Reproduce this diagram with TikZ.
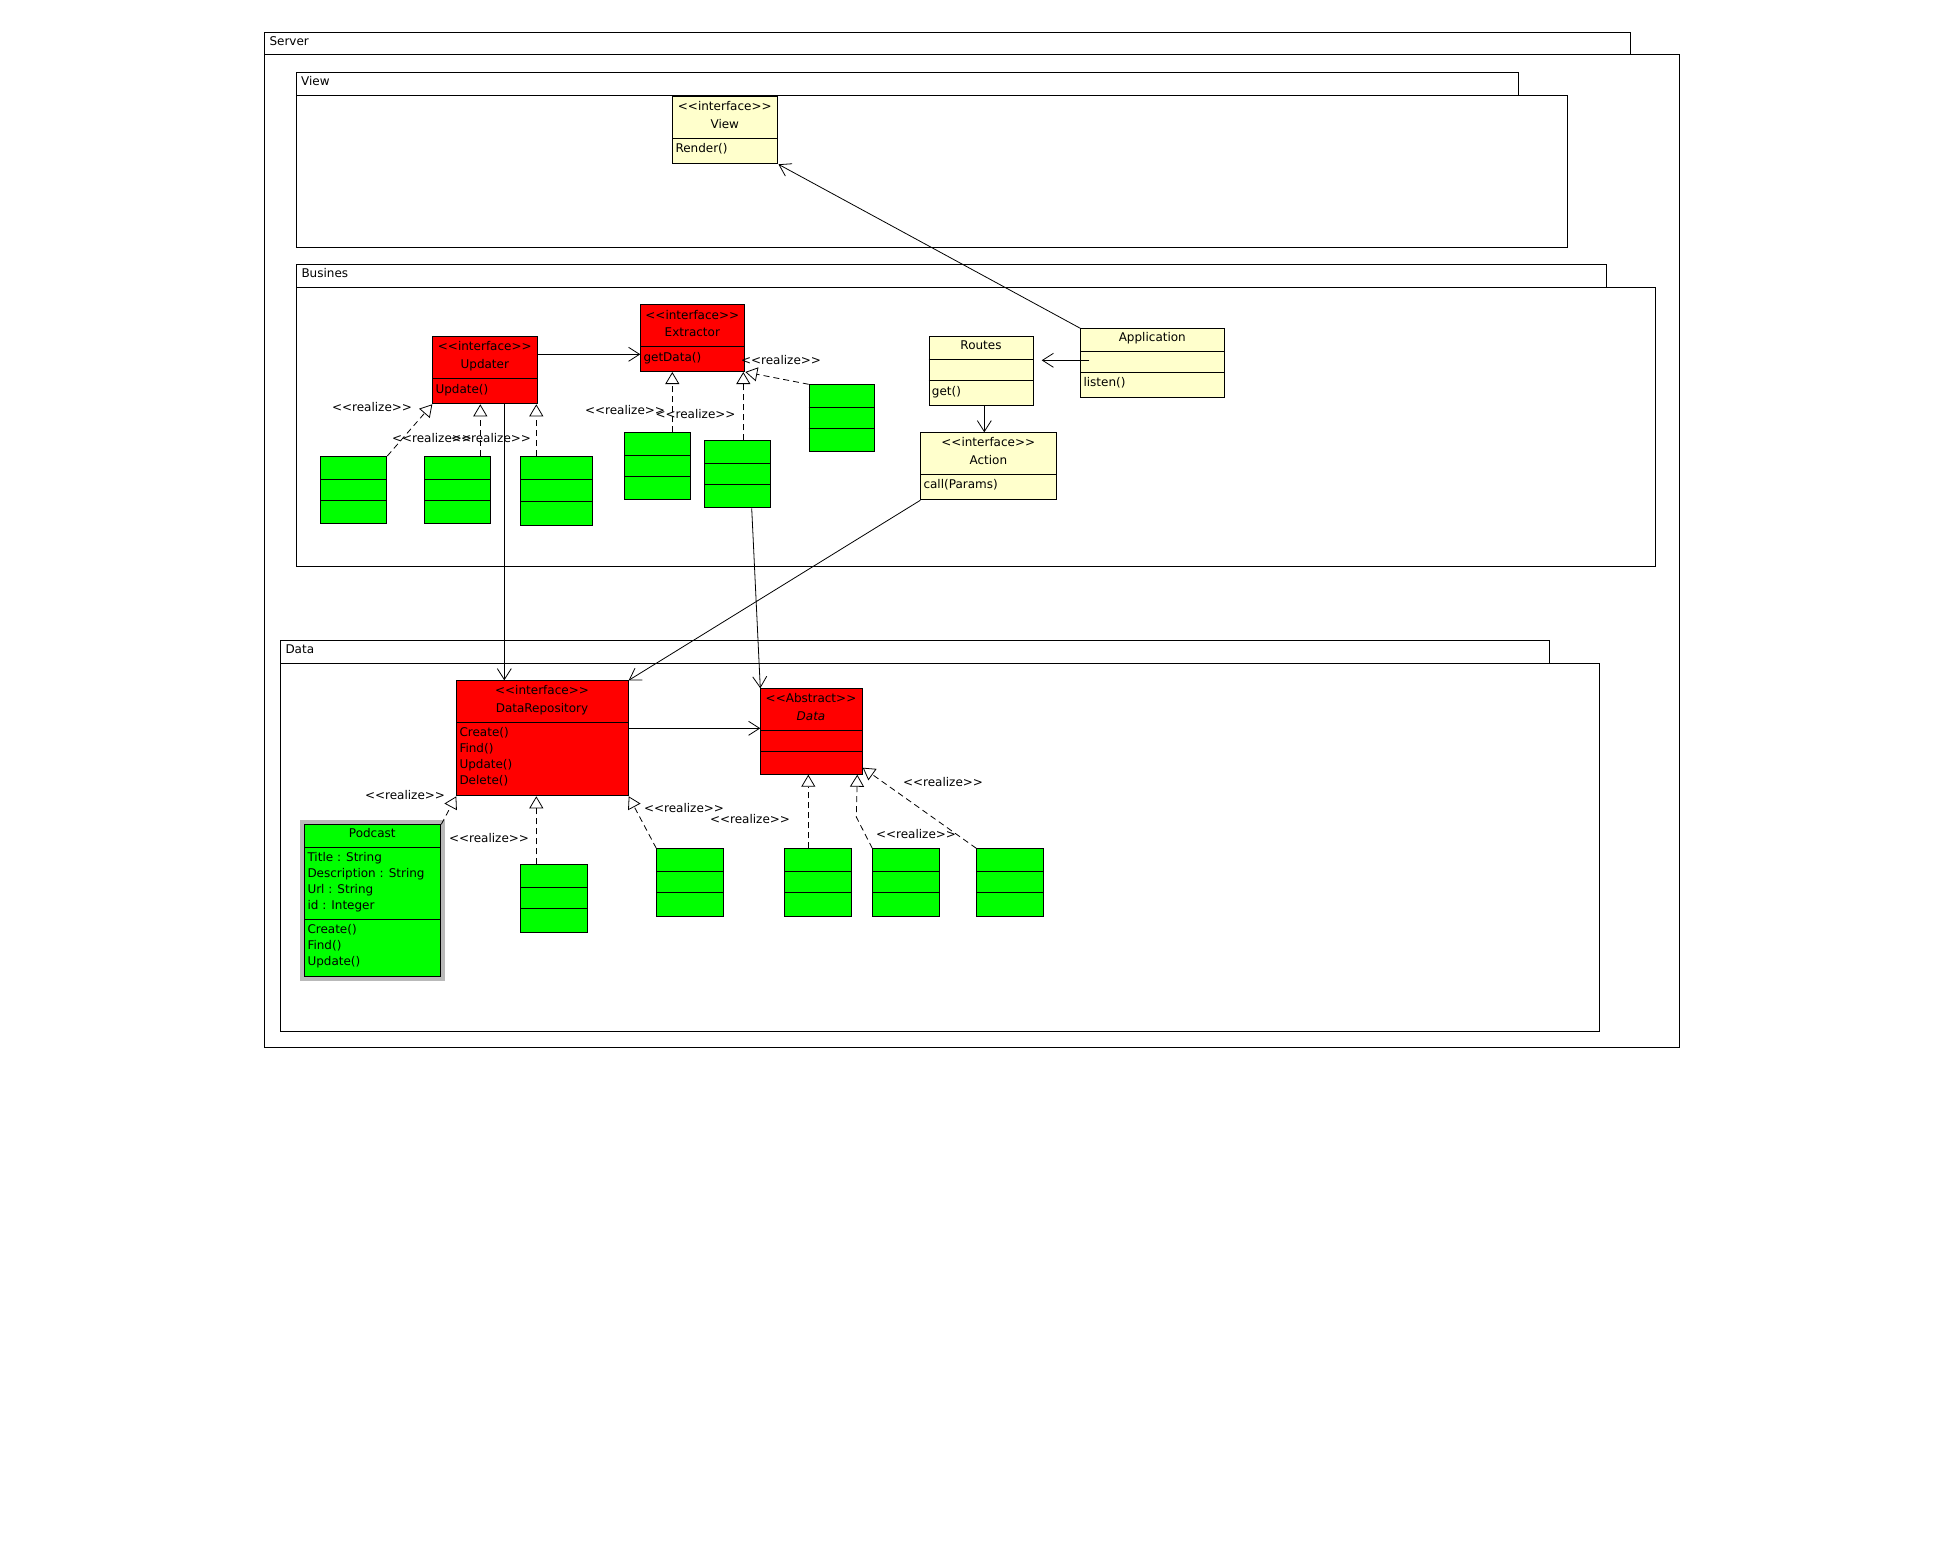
\documentclass[tikz,border=0pt]{standalone}
\usepackage{fontspec}
\usepackage{tikz}
\usetikzlibrary{arrows.meta,calc}
\newfontfamily\umlfont{DejaVu Sans}
\definecolor{classred}{RGB}{255,0,0}
\definecolor{classgreen}{RGB}{0,255,0}
\definecolor{classyellow}{RGB}{255,255,204}

\begin{document}
\begin{tikzpicture}[x=1pt,y=-1pt,
  font=\umlfont\fontsize{12}{14}\selectfont,
  box/.style={draw=black, line width=1pt, inner sep=0pt, anchor=north west},
  txt/.style={inner sep=0pt, text height=9pt, text depth=2.5pt, yshift=-2pt},
  lft/.style={txt, anchor=west},
  assoc/.style={draw, line width=0.8pt, -{Straight Barb[length=11pt,width=14pt]}},
  realize/.style={draw, line width=0.8pt, dash pattern=on 6pt off 4pt,
    -{Triangle[open,length=12pt,width=14pt,fill=white]}}]
\useasboundingbox (0,0) rectangle (1944,1544);

% packages
\draw[line width=1pt] (264.3,32.3) rectangle (1630.8,55);
\draw[line width=1pt] (264.3,55) rectangle (1679.8,1047.3);
\node[lft] (srvlbl) at (269.3,40.7) {Server};
\draw[line width=1pt] (296.3,72.3) rectangle (1518.7,95.3);
\draw[line width=1pt] (296.3,95.3) rectangle (1567.7,247.7);
\node[lft] (viewlbl) at (301,80.7) {View};
\draw[line width=1pt] (296.3,264.3) rectangle (1606.3,287.3);
\draw[line width=1pt] (296.3,287.3) rectangle (1655.3,566.6);
\node[lft] (buslbl) at (301.3,272.7) {Busines};
\draw[line width=1pt] (280.3,640.3) rectangle (1549.8,663.3);
\draw[line width=1pt] (280.3,663.3) rectangle (1599.4,1031.7);
\node[lft] (datalbl) at (285.3,648.7) {Data};

% View
\node[box, fill=classyellow, minimum width=105.1pt, minimum height=67pt] (vw) at (672.3,96.3) {};
\draw[line width=1pt] (672.3,138.3) -- (777.4,138.3);
\node[txt] (vwst) at (724.8,105.7) {<<interface>>};
\node[txt] (vwname) at (724.8,123.7) {View};
\node[lft] (vwop) at (675.3,147.3) {Render()};

% Busines
\node[box, fill=classred, minimum width=105pt, minimum height=67pt] (upd) at (432.3,336.3) {};
\draw[line width=1pt] (432.3,378.3) -- (537.3,378.3);
\node[txt] (updst) at (484.8,345.7) {<<interface>>};
\node[txt] (updname) at (484.8,363.3) {Updater};
\node[lft] (updop) at (435.3,388) {Update()};

\node[box, fill=classred, minimum width=104pt, minimum height=66.7pt] (ext) at (640.3,304.3) {};
\draw[line width=1pt] (640.3,346.3) -- (744.3,346.3);
\node[txt] (extst) at (692.3,314) {<<interface>>};
\node[txt] (extname) at (692.3,331.7) {Extractor};
\node[lft] (extop) at (643.3,356) {getData()};

\node[box, fill=classyellow, minimum width=104.6pt, minimum height=69pt] (rts) at (928.7,336.3) {};
\draw[line width=1pt] (928.7,359.3) -- (1033.3,359.3);
\draw[line width=1pt] (928.7,380.3) -- (1033.3,380.3);
\node[txt] (rtsname) at (981,344.3) {Routes};
\node[lft] (rtsop) at (931.7,390) {get()};

\node[box, fill=classyellow, minimum width=144pt, minimum height=69pt] (app) at (1080.3,328.3) {};
\draw[line width=1pt] (1080.3,351.7) -- (1224.3,351.7);
\draw[line width=1pt] (1080.3,372.3) -- (1224.3,372.3);
\node[txt] (appname) at (1152.3,336.7) {Application};
\node[lft] (appop) at (1083.3,381.7) {listen()};

\node[box, fill=classyellow, minimum width=136pt, minimum height=67pt] (act) at (920.3,432.3) {};
\draw[line width=1pt] (920.3,474) -- (1056.3,474);
\node[txt] (actst) at (988.3,441.7) {<<interface>>};
\node[txt] (actname) at (988.3,459.7) {Action};
\node[lft] (actop) at (923.3,483.3) {call(Params)};

\node[box, fill=classgreen, minimum width=66pt, minimum height=67.3pt] (g1) at (320.3,456) {};
\draw[line width=1pt] (320.3,479.3) -- (386.3,479.3) (320.3,500.3) -- (386.3,500.3);
\node[box, fill=classgreen, minimum width=66pt, minimum height=67.3pt] (g2) at (424.3,456) {};
\draw[line width=1pt] (424.3,479.3) -- (490.3,479.3) (424.3,500.3) -- (490.3,500.3);
\node[box, fill=classgreen, minimum width=72pt, minimum height=69.3pt] (g3) at (520.3,456) {};
\draw[line width=1pt] (520.3,479.3) -- (592.3,479.3) (520.3,501) -- (592.3,501);
\node[box, fill=classgreen, minimum width=66pt, minimum height=67pt] (g4) at (624.3,432.3) {};
\draw[line width=1pt] (624.3,455.3) -- (690.3,455.3) (624.3,476.3) -- (690.3,476.3);
\node[box, fill=classgreen, minimum width=66pt, minimum height=67pt] (g5) at (704.3,440.3) {};
\draw[line width=1pt] (704.3,463.3) -- (770.3,463.3) (704.3,484.3) -- (770.3,484.3);
\node[box, fill=classgreen, minimum width=65.6pt, minimum height=67pt] (g6) at (808.7,384.3) {};
\draw[line width=1pt] (808.7,407.3) -- (874.3,407.3) (808.7,428.3) -- (874.3,428.3);

% Data
\node[box, fill=classred, minimum width=171.4pt, minimum height=115pt] (dr) at (456.3,680.3) {};
\draw[line width=1pt] (456.3,722.3) -- (627.7,722.3);
\node[txt] (drst) at (542,689.7) {<<interface>>};
\node[txt] (drname) at (542,707.7) {DataRepository};
\node[lft] (drop1) at (459.3,731.3) {Create()};
\node[lft] (drop2) at (459.3,747.3) {Find()};
\node[lft] (drop3) at (459.3,763.3) {Update()};
\node[lft] (drop4) at (459.3,779.3) {Delete()};

\node[box, fill=classred, minimum width=101.4pt, minimum height=85.4pt] (dat) at (760.3,688.3) {};
\draw[line width=1pt] (760.3,730.3) -- (861.7,730.3) (760.3,751.7) -- (861.7,751.7);
\node[txt] (datst) at (811,697.7) {<<Abstract>>};
\node[txt] (datname) at (811,715.7) {\itshape Data};

\draw[gray!55, line width=4pt] (302,822.3) rectangle (443,978.5);
\node[box, fill=classgreen, minimum width=136pt, minimum height=152pt] (pod) at (304.3,824.3) {};
\draw[line width=1pt] (304.3,847.3) -- (440.3,847.3) (304.3,919.3) -- (440.3,919.3);
\node[txt] (podname) at (372.3,832.7) {Podcast};
\node[lft] (podat1) at (307.3,856.7) {Title : String};
\node[lft] (podat2) at (307.3,872.7) {Description : String};
\node[lft] (podat3) at (307.3,888.7) {Url : String};
\node[lft] (podat4) at (307.3,904.7) {id : Integer};
\node[lft] (podop1) at (307.3,928.3) {Create()};
\node[lft] (podop2) at (307.3,944.3) {Find()};
\node[lft] (podop3) at (307.3,960.3) {Update()};

\node[box, fill=classgreen, minimum width=66.4pt, minimum height=67.4pt] (g7) at (520.3,864.3) {};
\draw[line width=1pt] (520.3,887.3) -- (586.7,887.3) (520.3,908.3) -- (586.7,908.3);
\node[box, fill=classgreen, minimum width=66.4pt, minimum height=67.4pt] (g8) at (656.3,848.3) {};
\draw[line width=1pt] (656.3,871.3) -- (722.7,871.3) (656.3,892.7) -- (722.7,892.7);
\node[box, fill=classgreen, minimum width=66.4pt, minimum height=67.4pt] (g9) at (784.3,848.3) {};
\draw[line width=1pt] (784.3,871.3) -- (850.7,871.3) (784.3,892.7) -- (850.7,892.7);
\node[box, fill=classgreen, minimum width=66.4pt, minimum height=67.4pt] (g10) at (872.3,848.3) {};
\draw[line width=1pt] (872.3,871.3) -- (938.7,871.3) (872.3,892.7) -- (938.7,892.7);
\node[box, fill=classgreen, minimum width=66.4pt, minimum height=67.4pt] (g11) at (976.3,848.3) {};
\draw[line width=1pt] (976.3,871.3) -- (1042.7,871.3) (976.3,892.7) -- (1042.7,892.7);

% associations
\draw[assoc] (app.north west) -- (vw.south east);
\draw[assoc] ($(app.north west)+(9,32)$) -- ($(rts.north east)+(7.4,24)$);
\draw[assoc] ($(rts.south west)+(55.6,0)$) -- ($(act.north west)+(64,0)$);
\draw[assoc] ($(upd.north east)+(0,18)$) -- ($(ext.north west)+(0,50)$);
\draw[assoc] ($(upd.south west)+(72,0)$) -- ($(dr.north west)+(48,0)$);
\draw[assoc] ($(g5.south west)+(47.4,0)$) -- (dat.north west);
\draw[assoc] (act.south west) -- (dr.north east);
\draw[assoc] ($(dr.north east)+(0,48)$) -- ($(dat.north west)+(0,40)$);

% realizations
\draw[realize] (g1.north east) -- (upd.south west);
\draw[realize] ($(g2.north west)+(56,0)$) -- ($(upd.south west)+(48,0)$);
\draw[realize] ($(g3.north west)+(16,0)$) -- ($(upd.south west)+(104,0)$);
\draw[realize] ($(g4.north west)+(48,0)$) -- ($(ext.south west)+(32,0)$);
\draw[realize] ($(g5.north west)+(39,0)$) -- ($(ext.south west)+(103,0)$);
\draw[realize] (g6.north west) -- (ext.south east);
\draw[realize] (pod.north east) -- (dr.south west);
\draw[realize] ($(g7.north west)+(16,0)$) -- ($(dr.south west)+(80,0)$);
\draw[realize] (g8.north west) -- (dr.south east);
\draw[realize] ($(g9.north west)+(24,0)$) -- ($(dat.south west)+(48,0)$);
\draw[realize] (g10.north west) -- ($(g10.north west)+(-16,-31.3)$) -- ($(dat.south east)+(-5.4,0)$);
\draw[realize] (g11.north west) -- ($(dat.south east)+(0,-7)$);

\node[txt] (rl1) at (372,406) {<<realize>>};
\node[txt] (rl2) at (432,437) {<<realize>>};
\node[txt] (rl3) at (491,437) {<<realize>>};
\node[txt] (rl4) at (625,409) {<<realize>>};
\node[txt] (rl5) at (695.5,413) {<<realize>>};
\node[txt] (rl6) at (781,359) {<<realize>>};
\node[txt] (rl7) at (405,794) {<<realize>>};
\node[txt] (rl8) at (489,837) {<<realize>>};
\node[txt] (rl9) at (684,807) {<<realize>>};
\node[txt] (rl10) at (750,818) {<<realize>>};
\node[txt] (rl11) at (916,833) {<<realize>>};
\node[txt] (rl12) at (943,781) {<<realize>>};
\end{tikzpicture}
\end{document}
